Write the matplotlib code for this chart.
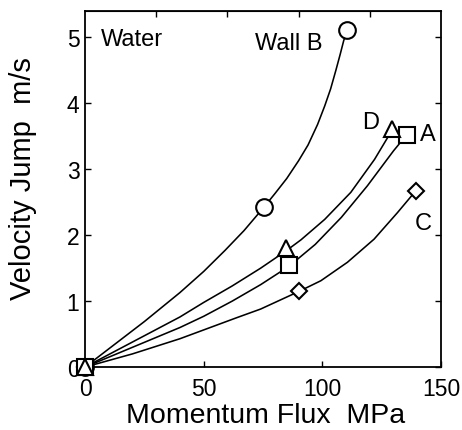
import matplotlib
matplotlib.use('Agg')
import matplotlib.pyplot as plt

plt.rcParams['font.family'] = ['Liberation Sans', 'DejaVu Sans']

# measured points (markers)
b_x = [0, 75.5, 110.5]
b_y = [0, 2.43, 5.12]
d_x = [0, 84.7, 129.5]
d_y = [0, 1.81, 3.61]
a_x = [0, 86.0, 135.5]
a_y = [0, 1.55, 3.52]
c_x = [0, 90.3, 139.3]
c_y = [0, 1.15, 2.67]

# fitted curves
b_curve_x = [0, 25, 40, 50, 59, 67, 75.5, 80, 85, 90, 94, 98, 101, 103.5, 105.7, 107.5, 109, 110.5]
b_curve_y = [0, 0.69, 1.13, 1.45, 1.77, 2.07, 2.43, 2.63, 2.86, 3.13, 3.37, 3.68, 3.96, 4.22, 4.50, 4.74, 4.95, 5.12]
d_curve_x = [0, 40, 50, 62, 74, 85, 91, 101, 112, 122, 129.5]
d_curve_y = [0, 0.76, 0.98, 1.23, 1.50, 1.77, 1.93, 2.24, 2.65, 3.15, 3.60]
a_curve_x = [0, 40, 50, 62, 74, 86, 97, 108, 119, 130, 135.5]
a_curve_y = [0, 0.60, 0.77, 1.00, 1.25, 1.53, 1.86, 2.27, 2.75, 3.28, 3.52]
c_curve_x = [0, 20, 40, 64, 74, 90.3, 99.4, 110.6, 121.8, 131.6, 139.3]
c_curve_y = [0, 0.20, 0.43, 0.75, 0.88, 1.15, 1.31, 1.59, 1.94, 2.34, 2.67]

x_ticks = [0, 50, 100, 150]
y_ticks = [0, 1, 2, 3, 4, 5]
top_ticks = [30, 60, 90, 120]

fig = plt.figure(figsize=(4.62, 4.31), dpi=100)
ax = fig.add_axes([0.184, 0.146, 0.7705, 0.826])

for cx, cy in [(b_curve_x, b_curve_y), (d_curve_x, d_curve_y),
               (a_curve_x, a_curve_y), (c_curve_x, c_curve_y)]:
    ax.plot(cx, cy, color='black', lw=1.15)

mk = dict(color='black', markerfacecolor='white', markeredgewidth=1.5,
          linestyle='none', clip_on=False, zorder=3)
ax.plot(b_x, b_y, marker='o', markersize=12, **mk)
ax.plot(c_x, c_y, marker='D', markersize=8.5, **mk)
ax.plot(a_x, a_y, marker='s', markersize=11.5, **mk)
ax.plot(d_x, d_y, marker='^', markersize=11, **mk)

ax.text(6.5, 4.97, 'Water', fontsize=17, va='center', ha='left')
ax.text(71.5, 4.91, 'Wall B', fontsize=17, va='center', ha='left')
ax.text(120.2, 3.71, 'D', fontsize=17, va='center', ha='center')
ax.text(144.5, 3.53, 'A', fontsize=17, va='center', ha='center')
ax.text(142.4, 2.18, 'C', fontsize=17, va='center', ha='center')

ax.set_xlim(0, 150)
ax.set_ylim(0, 5.4)
ax.set_xticks(x_ticks)
ax.set_yticks(y_ticks)
ax.tick_params(direction='in', length=4, width=1, labelsize=16.5, right=True)
ax.tick_params(axis='x', pad=7)
ax.tick_params(axis='y', pad=4)

top = ax.secondary_xaxis('top')
top.set_xticks(top_ticks)
top.tick_params(direction='in', length=4, width=1, labeltop=False)

for s in ax.spines.values():
    s.set_linewidth(1.3)

ax.set_xlabel('Momentum Flux  MPa', fontsize=20.5)
ax.set_ylabel('Velocity Jump  m/s', fontsize=21)
ax.xaxis.set_label_coords(0.506, -0.097)
ax.yaxis.set_label_coords(-0.135, 0.533)

fig.savefig('out.png', dpi=100)
